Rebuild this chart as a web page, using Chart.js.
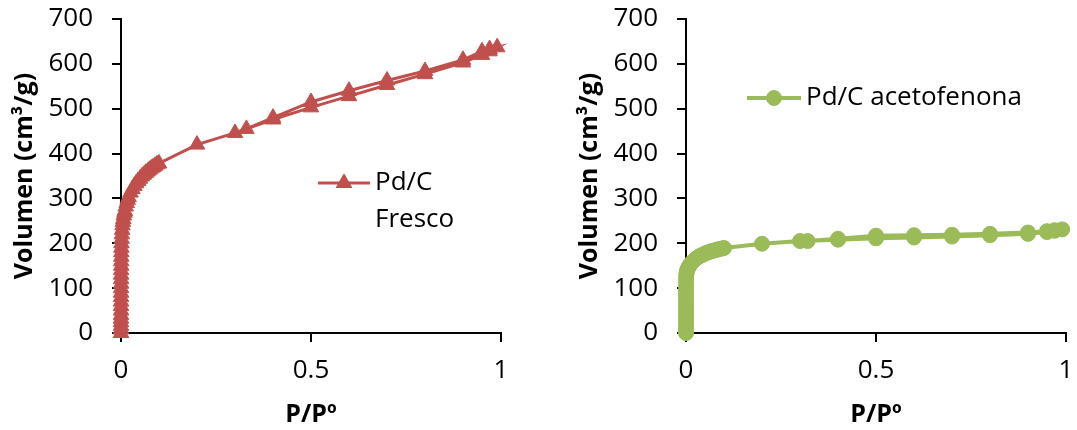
<!DOCTYPE html>
<html>
<head>
<meta charset="utf-8">
<script src="https://cdn.jsdelivr.net/npm/chart.js@4.4.1/dist/chart.umd.min.js"></script>
<style>
    html, body { margin: 0; padding: 0; background: #fff; }
    #wrap { position: relative; width: 1077px; height: 430px; overflow: hidden; }
    .box { position: absolute; top: 0; height: 430px; }
</style>
</head>
<body>
<div id="wrap">
    <div class="box" style="left:0;width:540px"><canvas id="freshChart" width="540" height="430"></canvas></div>
    <div class="box" style="left:565px;width:512px"><canvas id="usedChart" width="512" height="430"></canvas></div>
</div>
<script>
// series names
const seriesNames = ['Pd/C Fresco', 'Pd/C acetofenona'];
const xTitle = 'P/Pº';
const yTitle = 'Volumen (cm³/g)';

// axis ranges / ticks
const xTicks = [0, 0.5, 1];
const yTicks = [0, 100, 200, 300, 400, 500, 600, 700];

// Pd/C fresco: adsorption then desorption branch
const freshP = [0, 0.00001, 0.00002, 0.00003, 0.00004, 0.00005, 0.00006, 0.00008, 0.0001, 0.00012, 0.00015,
    0.0002, 0.00025, 0.0003, 0.00035, 0.0004, 0.0005, 0.0006, 0.0007, 0.0008, 0.001, 0.0013, 0.0017, 0.0022,
    0.003, 0.004, 0.005, 0.006, 0.0075, 0.009, 0.01, 0.0125, 0.015, 0.0175, 0.02, 0.025, 0.03, 0.035, 0.04,
    0.045, 0.05, 0.055, 0.06, 0.065, 0.07, 0.075, 0.08, 0.085, 0.09, 0.095, 0.1,
    0.2, 0.3, 0.4, 0.5, 0.6, 0.7, 0.8, 0.9, 0.95, 0.97, 0.99,
    0.97, 0.95, 0.9, 0.8, 0.7, 0.6, 0.5, 0.4, 0.33];
const freshV = [0, 8, 16, 24, 32, 40, 50, 60, 70, 80, 90,
    100, 110, 120, 130, 140, 150, 160, 170, 180, 190, 200, 210, 220,
    230, 240, 248, 254, 262, 268, 272, 282, 290, 297, 303, 313, 321, 328, 334,
    339, 344, 349, 353, 357, 360, 364, 367, 370, 373, 376, 378,
    420, 446, 476, 503, 528, 553, 577, 603, 620, 628, 637,
    633, 628, 609, 584, 563, 540, 515, 480, 455];

// Pd/C acetofenona: adsorption then desorption branch
const usedP = [0, 0.00001, 0.00002, 0.00003, 0.00004, 0.00005, 0.00006, 0.00008, 0.0001, 0.00012, 0.00015,
    0.0002, 0.00025, 0.0003, 0.0004, 0.0005, 0.0007, 0.001, 0.002, 0.003, 0.005, 0.0075, 0.01, 0.0125,
    0.015, 0.0175, 0.02, 0.025, 0.03, 0.035, 0.04, 0.045, 0.05, 0.055, 0.06, 0.065, 0.07, 0.075, 0.08,
    0.085, 0.09, 0.095, 0.1,
    0.2, 0.3, 0.4, 0.5, 0.6, 0.7, 0.8, 0.9, 0.95, 0.97, 0.99,
    0.97, 0.95, 0.9, 0.8, 0.7, 0.6, 0.5, 0.4, 0.32];
const usedV = [0, 8, 16, 24, 32, 40, 48, 56, 64, 72, 80,
    88, 96, 104, 112, 120, 126, 131, 136, 140, 144, 148, 151, 154,
    157, 159, 161, 165, 168, 171, 173, 175, 177, 179, 180, 182, 183, 184, 185.5,
    186.5, 187.5, 188.5, 189.5,
    199, 205, 208, 211, 213, 215, 218, 221, 225, 228, 231,
    229, 227, 224, 221, 219, 218, 217, 210, 205];

const FONT = '"Open Sans", "DejaVu Sans", sans-serif';

function drawMarker(ctx, style, x, y, r) {
    ctx.beginPath();
    if (style === 'triangle') {
        let rad = 0;
        ctx.moveTo(x + Math.sin(rad) * r, y - Math.cos(rad) * r);
        rad += 2 * Math.PI / 3;
        ctx.lineTo(x + Math.sin(rad) * r, y - Math.cos(rad) * r);
        rad += 2 * Math.PI / 3;
        ctx.lineTo(x + Math.sin(rad) * r, y - Math.cos(rad) * r);
        ctx.closePath();
    } else {
        ctx.arc(x, y, r, 0, Math.PI * 2);
    }
    ctx.fill();
    ctx.stroke();
}

// legend drawn inside the plot, like the original
const insideLegend = {
    id: 'insideLegend',
    afterDraw(chart, args, opts) {
        const ds = chart.data.datasets[0];
        const ctx = chart.ctx;
        ctx.save();
        ctx.strokeStyle = ds.borderColor;
        ctx.fillStyle = ds.backgroundColor;
        ctx.lineWidth = ds.borderWidth;
        ctx.beginPath();
        ctx.moveTo(opts.x, opts.y);
        ctx.lineTo(opts.x + opts.lineLength, opts.y);
        ctx.stroke();
        ctx.lineWidth = 1;
        drawMarker(ctx, ds.pointStyle, opts.x + opts.lineLength / 2, opts.y, ds.pointRadius);

        ctx.fillStyle = '#000';
        ctx.font = '26px ' + FONT;
        ctx.textBaseline = 'middle';
        ctx.textAlign = 'left';
        // simple word wrap
        const lines = [];
        let line = '';
        ds.label.split(' ').forEach(word => {
            const test = line ? line + ' ' + word : word;
            if (line && ctx.measureText(test).width > opts.maxWidth) {
                lines.push(line);
                line = word;
            } else {
                line = test;
            }
        });
        lines.push(line);
        lines.forEach((t, i) => ctx.fillText(t, opts.textX, opts.y + i * opts.lineGap));
        ctx.restore();
    }
};

function makeChart(canvasId, label, pressures, volumes, look, legendOpts) {
    const points = pressures.map((p, i) => ({x: p, y: volumes[i]}));
    const axisGrid = {
        display: true,
        drawOnChartArea: false,
        drawTicks: true,
        tickLength: 9,
        color: '#000',
        lineWidth: 2
    };
    return new Chart(document.getElementById(canvasId), {
        type: 'scatter',
        data: {
            datasets: [{
                label: label,
                data: points,
                showLine: true,
                borderColor: look.color,
                backgroundColor: look.color,
                borderWidth: look.lineWidth,
                pointStyle: look.marker,
                pointRadius: look.radius,
                pointBorderWidth: 1,
                pointBorderColor: look.color,
                pointBackgroundColor: look.color,
                tension: 0,
                clip: false
            }]
        },
        options: {
            responsive: false,
            animation: false,
            devicePixelRatio: 1,
            layout: {padding: {top: 19, right: look.padRight, left: 0, bottom: 0}},
            plugins: {
                legend: {display: false},
                tooltip: {enabled: false},
                insideLegend: legendOpts
            },
            scales: {
                x: {
                    type: 'linear',
                    min: xTicks[0],
                    max: xTicks[xTicks.length - 1],
                    afterBuildTicks: scale => { scale.ticks = xTicks.map(v => ({value: v})); },
                    afterFit: scale => {
                        scale.height = 97;
                        scale.paddingLeft = 0;
                        scale.paddingRight = 0;
                    },
                    ticks: {
                        callback: v => String(v),
                        font: {family: FONT, size: 26},
                        color: '#000',
                        padding: 13,
                        maxRotation: 0
                    },
                    grid: axisGrid,
                    border: {display: true, color: '#000', width: 2},
                    title: {
                        display: true,
                        text: xTitle,
                        font: {family: FONT, size: 25, weight: 'bold'},
                        color: '#000',
                        padding: {top: 0, bottom: 0}
                    }
                },
                y: {
                    type: 'linear',
                    min: yTicks[0],
                    max: yTicks[yTicks.length - 1],
                    afterBuildTicks: scale => { scale.ticks = yTicks.map(v => ({value: v})); },
                    afterFit: scale => {
                        scale.width = 121;
                        scale.paddingTop = 0;
                        scale.paddingBottom = 0;
                    },
                    ticks: {
                        font: {family: FONT, size: 26},
                        color: '#000',
                        padding: 19
                    },
                    grid: axisGrid,
                    border: {display: true, color: '#000', width: 2},
                    title: {
                        display: true,
                        text: yTitle,
                        font: {family: FONT, size: 25, weight: 'bold'},
                        color: '#000',
                        padding: {top: 10, bottom: 0}
                    }
                }
            }
        },
        plugins: [insideLegend]
    });
}

makeChart('freshChart', seriesNames[0], freshP, freshV,
    {color: '#C0504D', lineWidth: 3, marker: 'triangle', radius: 9, padRight: 39},
    {x: 318, y: 183, lineLength: 52, textX: 375, maxWidth: 120, lineGap: 37});

makeChart('usedChart', seriesNames[1], usedP, usedV,
    {color: '#9BBB59', lineWidth: 4, marker: 'circle', radius: 7.5, padRight: 11},
    {x: 182, y: 98, lineLength: 54, textX: 241, maxWidth: 300, lineGap: 37});
</script>
</body>
</html>
